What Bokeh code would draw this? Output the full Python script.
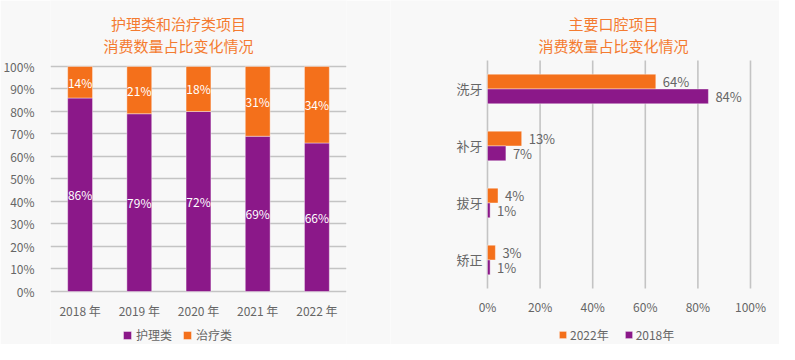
from bokeh.plotting import figure
from bokeh.layouts import row
from bokeh.models import (ColumnDataSource, FactorRange, Range1d, Legend, LegendItem,
                          NumeralTickFormatter, FixedTicker, LabelSet)
from bokeh.transform import dodge
from bokeh.core.properties import value
from bokeh.embed import file_html
from bokeh.resources import INLINE

# ---------------- data ----------------
years = ["2018 年", "2019 年", "2020 年", "2021 年", "2022 年"]
care = [86, 79, 72, 69, 66]      # 护理类
treat = [14, 21, 18, 31, 34]     # 治疗类

items = ["洗牙", "补牙", "拔牙", "矫正"]
y2022 = [64, 13, 4, 3]
y2018 = [84, 7, 1, 1]

pct_ticks = [i / 10 for i in range(11)]
x_ticks = [i / 5 for i in range(6)]

FONT = "Noto Sans CJK SC"
PURPLE = "#8b1889"
ORANGE = "#f4701b"
BG = "#f8f8f8"
GRID = "#c4c4c4"
TXT = "#666666"
TITLE = "#f47b30"

# ================= left chart =================
tot = [a + b for a, b in zip(care, treat)]
care_s = [a / t for a, t in zip(care, tot)]
src1 = ColumnDataSource(dict(
    x=years,
    care=care_s,
    top=[1.0] * len(years),
    care_mid=[c / 2 for c in care_s],
    treat_mid=[(c + 1) / 2 for c in care_s],
    care_lbl=[f"{v}%" for v in care],
    treat_lbl=[f"{v}%" for v in treat],
    xl_y=[-0.0844] * len(years),
))

# frame spans full height: 0% .. 100% occupy 225 px, extra room above/below for titles & legend
p1 = figure(x_range=FactorRange(*years), y_range=Range1d(-0.2356, 1.2933),
            x_axis_type=None,
            width=390, height=344, output_backend="svg", toolbar_location=None,
            min_border_left=49, min_border_right=44, min_border_top=0, min_border_bottom=0,
            background_fill_color=BG, border_fill_color=BG, outline_line_color=None)
p1.x_range.range_padding = 0
p1.yaxis.ticker = FixedTicker(ticks=pct_ticks)
p1.yaxis.formatter = NumeralTickFormatter(format="0%")
p1.yaxis.major_tick_line_color = None
p1.yaxis.minor_tick_line_color = None
p1.yaxis.axis_line_color = None
p1.yaxis.major_label_text_font = FONT
p1.yaxis.major_label_text_font_size = "12px"
p1.yaxis.major_label_text_color = TXT
p1.yaxis.major_label_standoff = 10
p1.ygrid.grid_line_color = GRID
p1.ygrid.grid_line_width = 1.5

r_care = p1.vbar(x="x", top="care", bottom=0, width=0.42, source=src1,
                 fill_color=PURPLE, line_color="white", line_alpha=0.4, line_width=1)
r_treat = p1.vbar(x="x", top="top", bottom="care", width=0.42, source=src1,
                  fill_color=ORANGE, line_color="white", line_alpha=0.4, line_width=1)
p1.add_layout(LabelSet(x="x", y="care_mid", text="care_lbl", source=src1,
                       text_align="center", text_baseline="middle", text_color="white",
                       text_font=value(FONT), text_font_size="12px"))
p1.add_layout(LabelSet(x="x", y="treat_mid", text="treat_lbl", source=src1,
                       text_align="center", text_baseline="middle", text_color="white",
                       text_font=value(FONT), text_font_size="12px"))
# category (x tick) labels
p1.text(x="x", y="xl_y", text="x", source=src1, text_align="center", text_baseline="middle",
        text_color=TXT, text_font=value(FONT), text_font_size="12px")
# two-line title
p1.text(x=[years[2], years[2]], y=[1.1911, 1.0933],
        text=["护理类和治疗类项目", "消费数量占比变化情况"], x_offset=-20,
        text_align="center", text_baseline="middle", text_color=TITLE,
        text_font=value(FONT), text_font_size="15px")

leg1 = Legend(items=[LegendItem(label="护理类", renderers=[r_care]),
                     LegendItem(label="治疗类", renderers=[r_treat])],
              orientation="horizontal", location=(72, 1),
              border_line_color=None, background_fill_alpha=0,
              label_text_font=FONT, label_text_font_size="12px", label_text_color=TXT,
              glyph_width=10, glyph_height=10, label_standoff=4, spacing=10,
              padding=0, margin=0, label_height=12)
p1.add_layout(leg1, "center")

# ================= right chart =================
n = len(items)
ypos = [n - i - 0.5 for i in range(n)]          # top-to-bottom category slots
src2 = ColumnDataSource(dict(
    y=ypos,
    name=items,
    zero=[0] * n,
    v22=[v / 100 for v in y2022],
    v18=[v / 100 for v in y2018],
    l22=[f"{v}%" for v in y2022],
    l18=[f"{v}%" for v in y2018],
))
src_t = ColumnDataSource(dict(
    x=x_ticks,
    y0=[0] * len(x_ticks),
    y1=[n] * len(x_ticks),
    lab=[f"{round(t * 100)}%" for t in x_ticks],
    ly=[-0.316] * len(x_ticks),
))

p2 = figure(x_range=Range1d(-0.3688, 1.1103), y_range=Range1d(-0.9825, 5.0526),
            x_axis_type=None, y_axis_type=None,
            width=389, height=344, output_backend="svg", toolbar_location=None,
            min_border_left=0, min_border_right=0, min_border_top=0, min_border_bottom=0,
            background_fill_color=BG, border_fill_color=BG, outline_line_color=None)

# vertical grid lines at the x ticks, spanning the category band
p2.segment(x0="x", y0="y0", x1="x", y1="y1", source=src_t, line_color=GRID, line_width=1.6)
p2.text(x="x", y="ly", text="lab", source=src_t, text_align="center", text_baseline="middle",
        text_color=TXT, text_font=value(FONT), text_font_size="12px")

r22 = p2.hbar(y=dodge("y", 0.13), right="v22", left=0, height=0.26,
              source=src2, fill_color=ORANGE, line_color="white", line_alpha=0.4, line_width=1)
r18 = p2.hbar(y=dodge("y", -0.13), right="v18", left=0, height=0.26,
              source=src2, fill_color=PURPLE, line_color="white", line_alpha=0.4, line_width=1)
p2.add_layout(LabelSet(x="v22", y=dodge("y", 0.13), text="l22", source=src2,
                       x_offset=7, text_align="left", text_baseline="middle", text_color=TXT,
                       text_font=value(FONT), text_font_size="13px"))
p2.add_layout(LabelSet(x="v18", y=dodge("y", -0.13), text="l18", source=src2,
                       x_offset=7, text_align="left", text_baseline="middle", text_color=TXT,
                       text_font=value(FONT), text_font_size="13px"))
# category labels
p2.text(x="zero", y="y", text="name", source=src2, x_offset=-5,
        text_align="right", text_baseline="middle", text_color=TXT,
        text_font=value(FONT), text_font_size="13px")
# two-line title
p2.text(x=[0.479, 0.479], y=[4.649, 4.263],
        text=["主要口腔项目", "消费数量占比变化情况"],
        text_align="center", text_baseline="middle", text_color=TITLE,
        text_font=value(FONT), text_font_size="15px")

leg2 = Legend(items=[LegendItem(label="2022年", renderers=[r22]),
                     LegendItem(label="2018年", renderers=[r18])],
              orientation="horizontal", location=(168, 1),
              border_line_color=None, background_fill_alpha=0,
              label_text_font=FONT, label_text_font_size="12px", label_text_color=TXT,
              glyph_width=9, glyph_height=9, label_standoff=3, spacing=15,
              padding=0, margin=0, label_height=12)
p2.add_layout(leg2, "center")

layout = row(p1, p2, spacing=0)
open("out.html", "w").write(file_html(layout, INLINE))
